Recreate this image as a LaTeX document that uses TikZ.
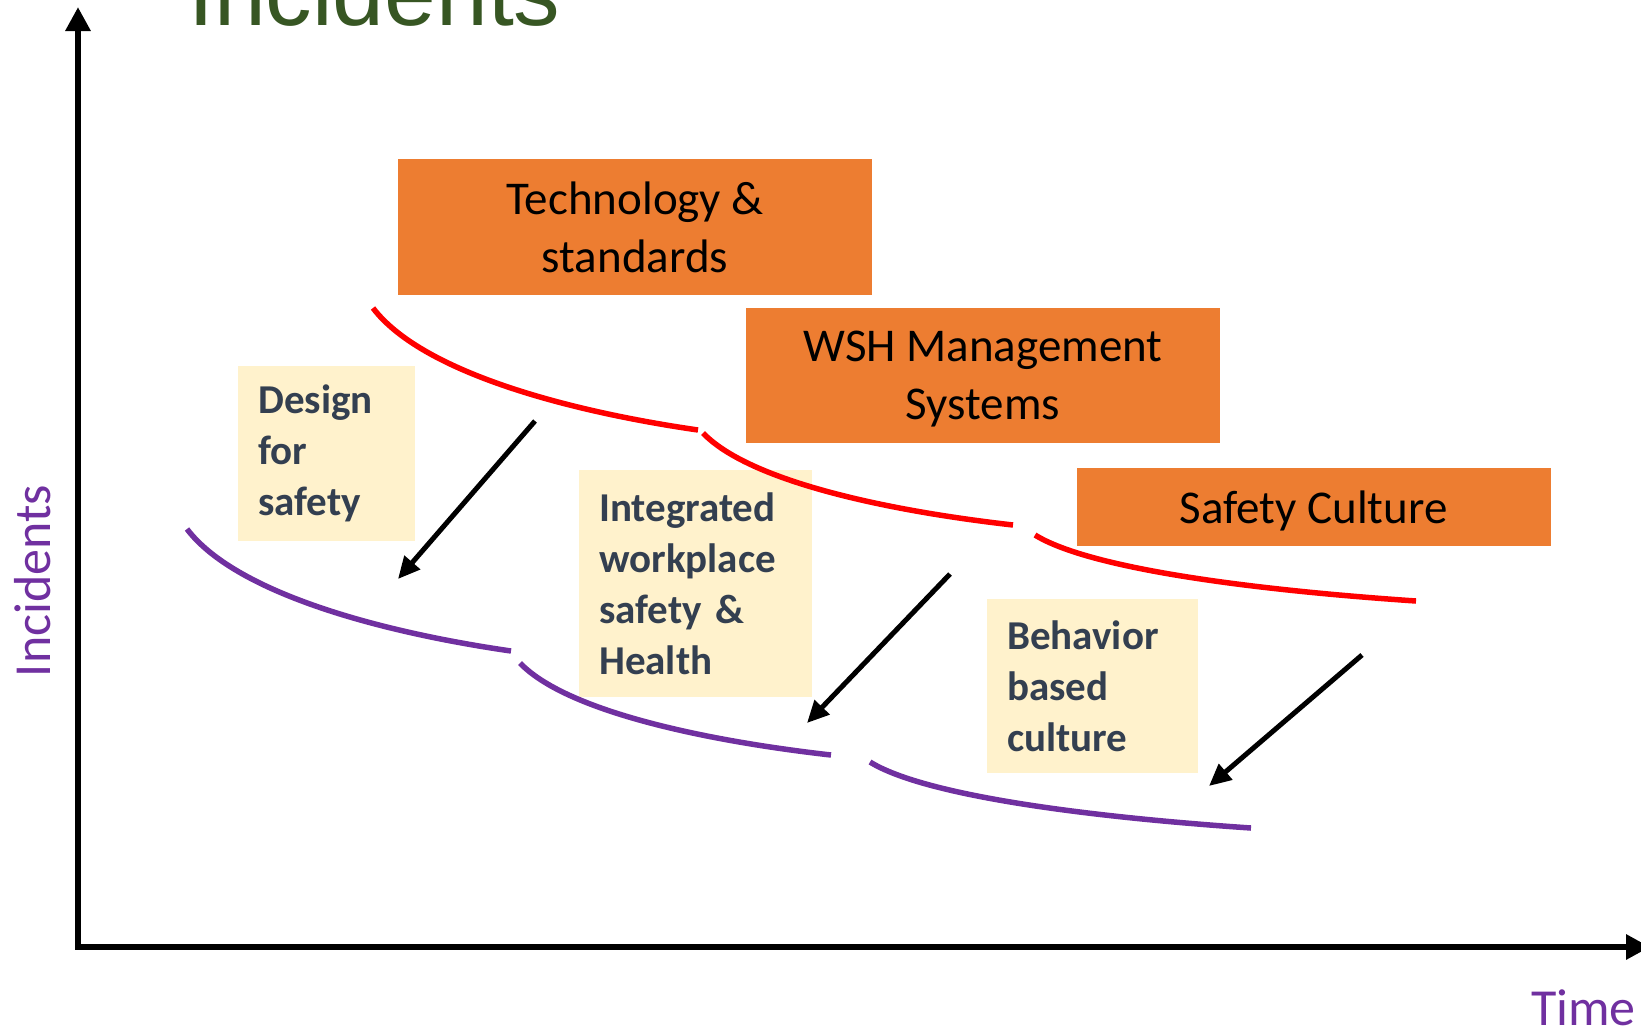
\documentclass[tikz,border=0pt]{standalone}
\usepackage{fontspec}
\setmainfont{Carlito}
\newfontfamily\titlefont{Liberation Sans}
\usetikzlibrary{arrows.meta}

\definecolor{boxorange}{HTML}{ED7D31}
\definecolor{noteyellow}{HTML}{FFF2CC}
\definecolor{notetext}{HTML}{333F50}
\definecolor{curvered}{HTML}{FF0000}
\definecolor{curvepurple}{HTML}{7030A0}
\definecolor{titlegreen}{HTML}{375623}

\tikzset{
  axis/.style={line width=6.5pt, -{Triangle[length=24pt,width=24pt]}},
  stagebox/.style={fill=boxorange, inner sep=0pt, minimum width=474pt, align=center, font=\fontsize{47}{58}\selectfont},
  notebox/.style={fill=noteyellow, anchor=north west, inner xsep=20pt, inner ysep=0pt, align=left, text=notetext, font=\bfseries\fontsize{41}{51}\selectfont},
  drop/.style={line width=5pt, -{Triangle[length=22pt,width=20pt]}},
  upper/.style={curvered, line width=5.5pt},
  lower/.style={curvepurple, line width=5.5pt},
}

\begin{document}
\begin{tikzpicture}[x=1pt, y=-1pt]
  \useasboundingbox (0,0) rectangle (1641,1029);

  % axes
  \coordinate (origin) at (78,947);
  \draw[axis] (origin) -- (78,7);
  \draw[axis] (75,947) -- (1650,947);
  \node[anchor=base west, inner sep=0pt, text=titlegreen, font=\titlefont\fontsize{93}{100}\selectfont] (title) at (188,25) {Incidents};
  \node[rotate=90, anchor=base, inner sep=0pt, text=curvepurple, font=\fontsize{52}{60}\selectfont] (ylabel) at (50,581) {Incidents};
  \node[anchor=base west, inner sep=0pt, text=curvepurple, font=\fontsize{52}{60}\selectfont] (xlabel) at (1531,1025) {Time};

  % stages
  \node[stagebox, minimum height=136pt] (tech) at (635,227) {Technology \&\\standards};
  \node[stagebox, minimum height=135pt, text depth=0pt] (wsh) at (983,375.5) {WSH Management\\Systems};
  \node[stagebox, minimum height=78pt, text depth=0pt] (culture) at (1313.5,507) {Safety Culture};

  % notes
  \node[notebox, minimum width=177pt, minimum height=175pt, text width=137pt] (design) at (238,366) {Design\\for\\safety};
  \node[notebox, minimum width=233pt, minimum height=227pt, text width=193pt] (iwsh) at (579,470) {Integrated\\workplace\\safety \&\\Health};
  \node[notebox, minimum width=211pt, minimum height=174pt, text width=171pt] (behave) at (987,599) {Behavior\\based\\culture};

  \draw[upper] (373,308) .. controls (420,370) and (560,410) .. (698,430);
  \draw[upper] (703,433) .. controls (748,480) and (881,510) .. (1013,525);
  \draw[upper] (1035,535) .. controls (1090,569) and (1254,590) .. (1416,601);

  \draw[lower] (187,529) .. controls (234,591) and (373,631) .. (511,651);
  \draw[lower] (520,663) .. controls (565,710) and (699,740) .. (831,755);
  \draw[lower] (870,762) .. controls (925,796) and (1089,817) .. (1251,828);

  % drops
  \coordinate (d1) at (535,421); \coordinate (d1e) at (398,579);
  \coordinate (d2) at (950,574); \coordinate (d2e) at (807,723);
  \coordinate (d3) at (1362,655); \coordinate (d3e) at (1209,786);
  \draw[drop] (d1) -- (d1e);
  \draw[drop] (d2) -- (d2e);
  \draw[drop] (d3) -- (d3e);
\end{tikzpicture}
\end{document}
